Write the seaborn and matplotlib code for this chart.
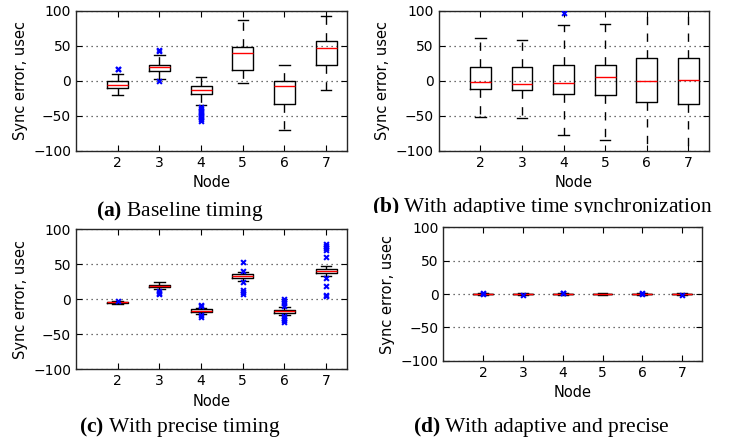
"""
Sync error per node, four timing configurations (box plots).
"""

import matplotlib
matplotlib.use("Agg")
import pandas as pd
import matplotlib.pyplot as plt
from matplotlib.transforms import Bbox, TransformedBbox
import seaborn as sns


nodes = [2, 3, 4, 5, 6, 7]

# per node: whisker low, q1, median, q3, whisker high
baseline_box = [
    [-21, -10, -6, -1, 10],
    [3, 14, 19, 23, 37],
    [-35, -19, -13, -8, 5],
    [-3, 15, 39, 48, 86],
    [-70, -34, -8, 0, 22],
    [-14, 22, 46, 56, 92],
]
baseline_fliers = [
    [16, 17],
    [-1, 42, 44],
    [-37, -40, -43, -45, -48, -50, -52, -55, -57],
    [],
    [],
    [],
]

adaptive_box = [
    [-52, -12, -2, 19, 61],
    [-53, -13, -5, 19, 58],
    [-78, -19, -3, 22, 79],
    [-85, -21, 5, 23, 81],
    [-130, -30, 0, 32, 130],
    [-130, -34, 1, 33, 130],
]
adaptive_fliers = [[], [], [96], [], [], []]

precise_box = [
    [-7, -6, -4.5, -3.5, -2.8],
    [15, 17, 19, 21, 24],
    [-21, -18.5, -16.5, -14.5, -12],
    [26, 30, 33, 36, 39],
    [-22, -19, -17, -15, -11],
    [33, 37, 40, 43, 47],
]
precise_fliers = [
    [-2],
    [12, 9, 7],
    [-8, -10, -23, -25],
    [53, 41, 24, 13, 10, 7],
    [0, -3, -6, -9, -24, -27, -30, -33],
    [79, 76, 73, 70, 60, 31, 19, 6, 4],
]

both_box = [
    [-1.2, -0.6, 0.1, 0.6, 1.3],
    [-1.3, -0.7, -0.1, 0.5, 1.1],
    [-1.1, -0.5, 0.2, 0.7, 1.4],
    [-1.2, -0.6, 0.0, 0.6, 1.2],
    [-1.4, -0.7, 0.1, 0.6, 1.3],
    [-1.3, -0.6, -0.1, 0.5, 1.2],
]
both_fliers = [[0.8, -0.5], [-1.5], [1.0, 2.0], [], [0.6, 1.8], [-1.4]]

captions = [
    r"$\mathbf{(a)}$ Baseline timing",
    r"$\mathbf{(b)}$ With adaptive time synchronization",
    r"$\mathbf{(c)}$ With precise timing",
    r"$\mathbf{(d)}$ With adaptive and precise",
]


plt.rcParams["font.family"] = ["DejaVu Sans"]
plt.rcParams["mathtext.fontset"] = "custom"
plt.rcParams["mathtext.bf"] = "Liberation Serif:bold"
plt.rcParams["mathtext.rm"] = "Liberation Serif"


def draw_panel(ax, stats, fliers):
    box_df = pd.DataFrame(
        [(n, v) for n, vals in zip(nodes, stats) for v in vals],
        columns=["node", "value"],
    )
    sns.boxplot(
        data=box_df,
        x="node",
        y="value",
        native_scale=True,
        width=0.5,
        whis=(0, 100),
        showfliers=False,
        fill=False,
        color="black",
        linewidth=1,
        medianprops={"color": "red", "linewidth": 1},
        whiskerprops={"linestyle": (0, (6, 6))},
        ax=ax,
    )

    flier_df = pd.DataFrame(
        [(n, v) for n, vals in zip(nodes, fliers) for v in vals],
        columns=["node", "value"],
    )
    if len(flier_df):
        sns.scatterplot(
            data=flier_df,
            x="node",
            y="value",
            marker="x",
            color="blue",
            s=12,
            linewidth=1.5,
            zorder=4,
            ax=ax,
        )

    ax.set_xlim(1, 7.5)
    ax.set_ylim(-100, 100)
    ax.set_xticks(nodes)
    ax.set_yticks([-100, -50, 0, 50, 100])
    ax.yaxis.grid(True, linestyle=(0, (1, 3)), color="0.25", linewidth=0.9)
    ax.xaxis.grid(False)
    ax.tick_params(direction="in", top=True, right=True,
                   length=4, width=0.8, labelsize=10)
    for spine in ax.spines.values():
        spine.set_color("0.15")
        spine.set_linewidth(1)
    ax.set_xlabel("Node", fontsize=10.5)
    ax.set_ylabel("Sync error, usec", fontsize=10.5)


fig = plt.figure(figsize=(7.32, 4.41), dpi=100)

W, H = 732, 441
boxes = [
    (76, 10.7, 347, 150.7),
    (438.7, 10.7, 709.3, 150.7),
    (76, 229.3, 347, 369.3),
    (443.3, 227.3, 702, 360.7),
]
panels = [
    (baseline_box, baseline_fliers),
    (adaptive_box, adaptive_fliers),
    (precise_box, precise_fliers),
    (both_box, both_fliers),
]

for (x0, y0, x1, y1), (stats, fliers) in zip(boxes, panels):
    ax = fig.add_axes([x0 / W, 1 - y1 / H, (x1 - x0) / W, (y1 - y0) / H])
    draw_panel(ax, stats, fliers)

# captions
cap_pos = [(180, 216), (542, 212), (180, 432), (541, 432)]
for (cx, cy), text in zip(cap_pos, captions):
    t = fig.text(
        cx / W, 1 - cy / H, text,
        ha="center", va="baseline",
        fontsize=15.5, family="Liberation Serif",
    )
    if text.startswith(r"$\mathbf{(b)}"):
        # caption (b) is cut off by the panel below it in the original
        t.set_clip_on(True)
        t.set_clip_box(
            TransformedBbox(Bbox([[0, 1 - 213 / H], [1, 1]]), fig.transFigure)
        )

fig.savefig("out.png", dpi=100)
plt.close(fig)
